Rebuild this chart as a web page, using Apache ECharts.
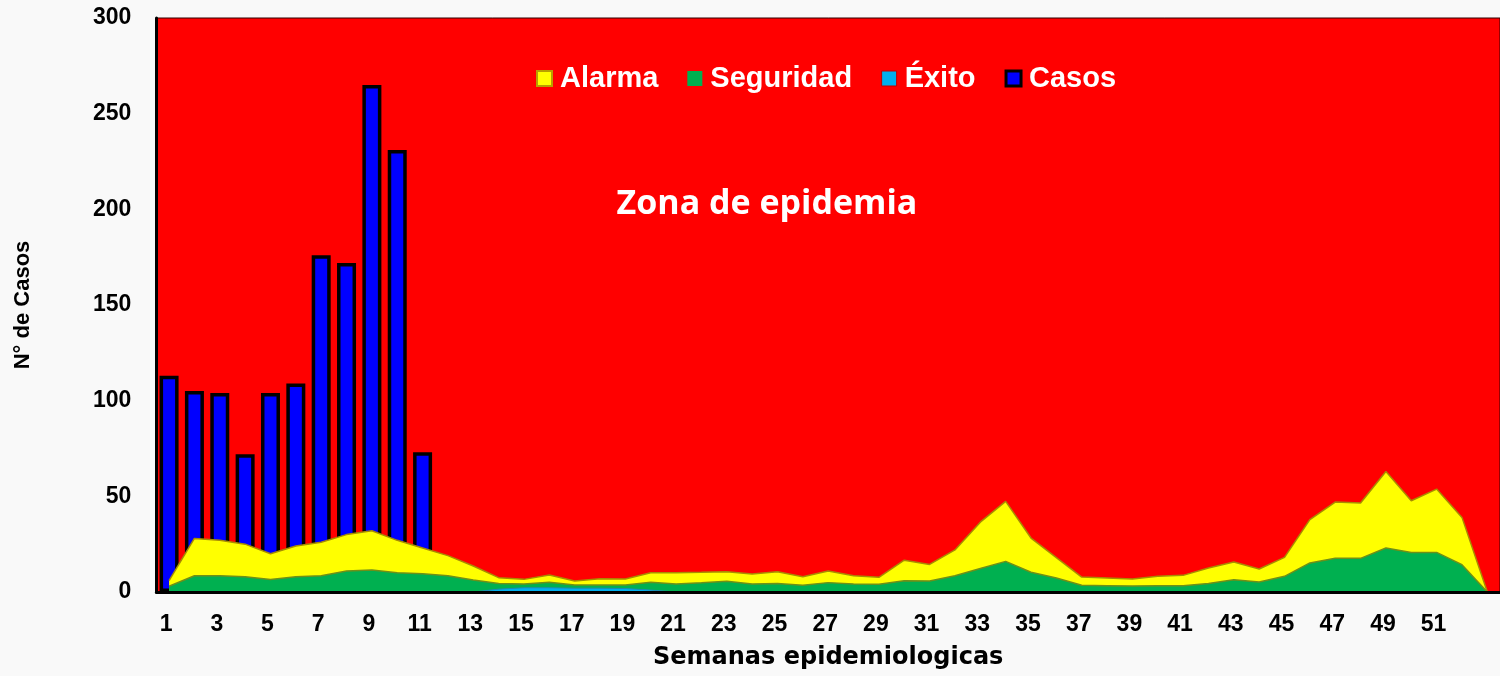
<!DOCTYPE html>
<html>
<head>
<meta charset="utf-8">
<script src="https://cdn.jsdelivr.net/npm/echarts@6/dist/echarts.min.js"></script>
<style>
html,body{margin:0;padding:0;background:#f9f9f9;}
#chart{width:1500px;height:676px;}
</style>
</head>
<body>
<div id="chart"></div>
<script>
var weeks = ['1','2','3','4','5','6','7','8','9','10','11','12','13','14','15','16','17','18','19','20','21','22','23','24','25','26','27','28','29','30','31','32','33','34','35','36','37','38','39','40','41','42','43','44','45','46','47','48','49','50','51','52','53'];
var alarma = [6,28,27,25,20,24,26,30,32,27,23,19,13.6,7.5,6.6,8.9,5.7,6.9,6.8,10.1,10.1,10.3,10.6,9.4,10.6,8.0,11.0,8.5,7.7,16.6,14.4,22,36.5,47.4,28.2,18,7.8,7.3,6.8,8.2,8.7,12.5,15.7,12.0,18.1,37.8,47,46.5,63,47.7,53.8,39,0];
var seguridad = [3,8.5,8.5,8,6.5,8,8.5,11,11.5,10,9.5,8.5,6.3,4.5,4.2,5.1,3.7,3.7,3.7,5.1,4.2,4.8,5.6,4.2,4.5,3.5,4.9,4.2,4.0,5.9,5.8,8.5,12.3,16,10.3,7.3,3.5,3.3,3.1,3.3,3.3,4.4,6.4,5.2,8.2,15.2,17.6,17.6,23,20.7,20.7,14.3,0];
var exito = [0,0,0,0,0,0,0,0,0,0,0,0,0,1.5,2.2,2.2,2,2,1.8,1,0,0,0,0,0,0,0,0,0,0,0,0,0,0,0,0,0,0,0,0,0,0,0,0,0,0,0,0,0,0,0,0,0];
var casos = [113,105,104,72,104,109,176,172,265,231,73,null,null,null,null,null,null,null,null,null,null,null,null,null,null,null,null,null,null,null,null,null,null,null,null,null,null,null,null,null,null,null,null,null,null,null,null,null,null,null,null,null,null];
var yTicks = [0,50,100,150,200,250,300];

var chart = echarts.init(document.getElementById('chart'), null, {renderer:'canvas'});
var F = '"Liberation Sans", Arial, sans-serif';
chart.setOption({
  backgroundColor: '#f9f9f9',
  animation: false,
  grid: {left:156.4, top:18, width:1354.2, height:574, show:true, backgroundColor:'#ff0000', borderColor:'#300000', borderWidth:1},
  legend: {
    left: 531, top: 59, icon: 'rect', itemWidth: 15, itemHeight: 15, itemGap: 29,
    textStyle: {color:'#ffffff', fontSize:29, fontWeight:'bold', fontFamily:F, padding:[0,0,0,3]},
    data: [
      {name:'Alarma', itemStyle:{color:'#ffff00', borderColor:'#b8a000', borderWidth:2}},
      {name:'Seguridad', itemStyle:{color:'#00b050', borderWidth:0}},
      {name:'Éxito', itemStyle:{color:'#00b0f0', borderColor:'#c00000', borderWidth:1}},
      {name:'Casos', itemStyle:{color:'#0000ff', borderColor:'#000000', borderWidth:3}}
    ]
  },
  graphic: [{
    type:'text', x:767, y:204, z:50,
    style:{text:'Zona de epidemia', fill:'#ffffff', font:'bold 34px "Open Sans", sans-serif', textAlign:'center', textVerticalAlign:'middle', verticalAlign:'middle'}
  }],
  xAxis: {
    type:'category', data: weeks, boundaryGap:true, z:10,
    axisLine:{show:true, lineStyle:{color:'#000', width:3}},
    axisTick:{show:false},
    axisLabel:{
      interval: function(i){ return i % 2 === 0 && i < 52; },
      color:'#000', fontSize:23, fontWeight:'bold', fontFamily:F, margin:21, padding:[0,6,0,0]
    },
    name:'Semanas epidemiologicas', nameLocation:'middle', nameGap:54,
    nameTextStyle:{color:'#000', fontSize:24, fontWeight:'bold', fontFamily:'"DejaVu Sans", sans-serif'}
  },
  yAxis: {
    type:'value', min:0, max:300, interval:50, z:10,
    axisLine:{show:true, lineStyle:{color:'#000', width:3}},
    axisTick:{show:false},
    splitLine:{show:false},
    axisLabel:{color:'#000', fontSize:23, fontWeight:'bold', fontFamily:F, margin:25,
      formatter:function(v){ return yTicks.indexOf(v) >= 0 ? String(v) : ''; }},
    name:'N° de Casos', nameLocation:'middle', nameGap:122,
    nameTextStyle:{color:'#000', fontSize:22, fontWeight:'bold', fontFamily:F}
  },
  series: [
    {name:'Alarma', type:'line', data: alarma, symbol:'none', color:'#ffff00',
     lineStyle:{color:'#a88c00', width:1.5}, areaStyle:{color:'#ffff00', opacity:1}},
    {name:'Seguridad', type:'line', data: seguridad, symbol:'none', color:'#00b050',
     lineStyle:{color:'#6f8f18', width:1.5}, areaStyle:{color:'#00b050', opacity:1}},
    {name:'Éxito', type:'line', data: exito, symbol:'none', color:'#00b0f0',
     lineStyle:{color:'#1a8ab0', width:1}, areaStyle:{color:'#00b0f0', opacity:1}},
    {name:'Casos', type:'bar', data: casos, barWidth:19, color:'#0000ff',
     itemStyle:{color:'#0000ff', borderColor:'#000000', borderWidth:3.5}}
  ]
});
</script>
</body>
</html>
